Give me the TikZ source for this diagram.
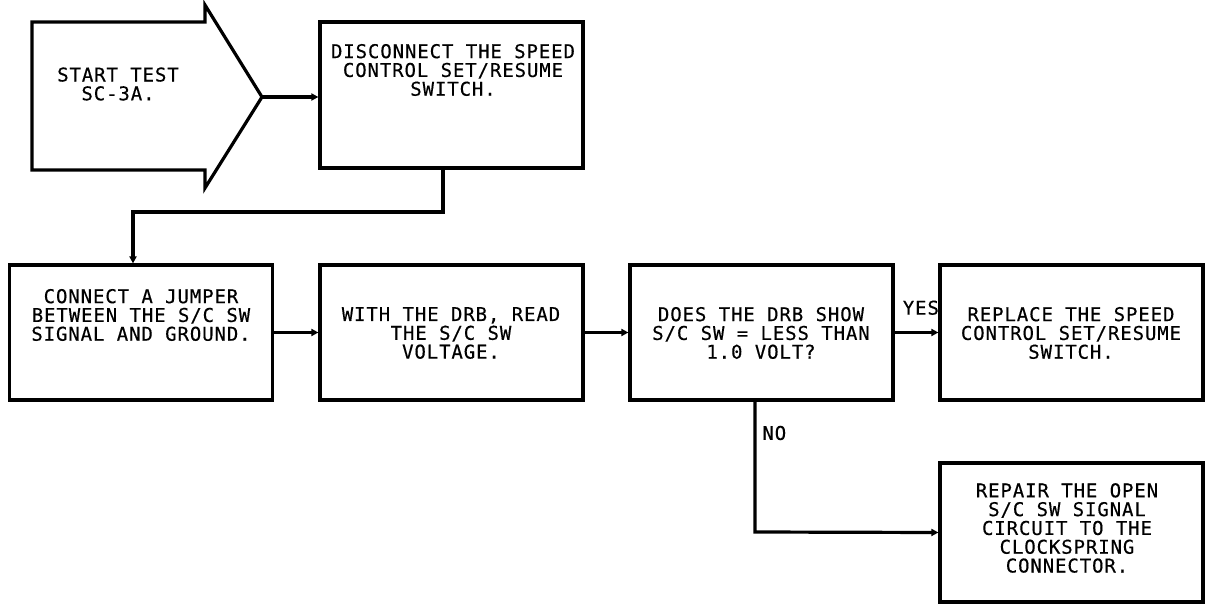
\documentclass[tikz,border=0pt]{standalone}
\usepackage{fontspec}
\newfontfamily\diagfont[LetterSpace=4.7,FakeBold=0.4]{DejaVu Sans Mono}
\usetikzlibrary{arrows.meta}
\begin{document}
\begin{tikzpicture}[x=0.5pt,y=-0.5pt,
  box/.style={draw,line width=1.6pt,rectangle,minimum width=131.5pt,minimum height=67.5pt,inner sep=0pt},
  txt/.style={align=center,inner sep=0pt,font=\diagfont\fontsize{9.5}{9.4}\selectfont},
  lab/.style={inner sep=0pt,font=\diagfont\fontsize{9.5}{9.4}\selectfont},
  conn/.style={line width=1.6pt,-{Triangle[length=3.5pt,width=3.5pt]}}]
\useasboundingbox (0,0) rectangle (1216,610);
% start arrow
\draw[line width=1.6pt,line join=miter] (32,22) -- (205,22) -- (205,5) -- (262,97) -- (205,188) -- (205,170) -- (32,170) -- cycle;
\coordinate (tip) at (262,97);
\node[txt] (t0) at (118,84) {START TEST\\SC-3A.};
% boxes
\node[box,minimum height=73pt] (b1) at (451.5,95) {};
\node[box] (b2) at (141,332.5) {};
\node[box] (b3) at (451.5,332.5) {};
\node[box] (b4) at (761.5,332.5) {};
\node[box] (b5) at (1071.5,332.5) {};
\node[box,minimum height=69.5pt] (b6) at (1071.5,532.5) {};
% texts
\node[txt] (t1) at (453,70) {DISCONNECT THE SPEED\\CONTROL SET/RESUME\\SWITCH.};
\node[txt] (t2) at (141,315) {CONNECT A JUMPER\\BETWEEN THE S/C SW\\SIGNAL AND GROUND.};
\node[txt] (t3) at (451,333) {WITH THE DRB, READ\\THE S/C SW\\VOLTAGE.};
\node[txt] (t4) at (761,333) {DOES THE DRB SHOW\\S/C SW = LESS THAN\\1.0 VOLT?};
\node[txt] (t5) at (1071,333) {REPLACE THE SPEED\\CONTROL SET/RESUME\\SWITCH.};
\node[txt] (t6) at (1067,528) {REPAIR THE OPEN\\S/C SW SIGNAL\\CIRCUIT TO THE\\CLOCKSPRING\\CONNECTOR.};
% connectors
\draw[conn] (tip) -- (tip -| b1.west);
\coordinate (c1) at (443,212);
\coordinate (c2) at (133,212);
\draw[conn] (b1.south -| c1) -- (c1) -- (c2) -- (c2 |- b2.north);
\draw[conn] (b2) -- (b3);
\draw[conn] (b3) -- (b4);
\draw[conn] (b4) -- (b5) node[lab,pos=0.6,above=8pt] (yes) {YES};
\coordinate (c3) at (755,532);
\draw[conn] (b4.south -| c3) -- (c3) -- (b6.west);
\node[lab,anchor=west] (no) at (762,433) {NO};
\end{tikzpicture}
\end{document}
